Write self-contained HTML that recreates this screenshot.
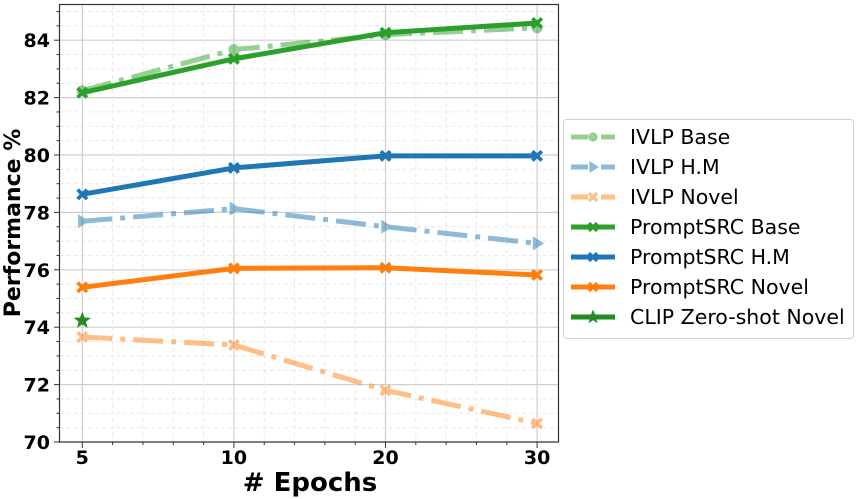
<!DOCTYPE html>
<html><head><meta charset="utf-8"><style>
html,body{margin:0;padding:0;background:#fff;}
svg{display:block;font-family:"DejaVu Sans","Liberation Sans",sans-serif;}
</style></head><body>
<svg id="chart" width="857" height="499" viewBox="0 0 857 499" xmlns="http://www.w3.org/2000/svg">
<g id="grid"></g>
<g id="series"></g>
<rect x="59.5" y="4.5" width="499" height="437.5" fill="none" stroke="#333" stroke-width="1.2"/>
<g id="axes"></g>
<text x="310" y="491" text-anchor="middle" font-size="26" font-weight="bold"># Epochs</text>
<text transform="translate(20,223) rotate(-90)" text-anchor="middle" font-size="22" font-weight="bold">Performance %</text>
<g id="legend"></g>
</svg>
<script>
const categories = ["5","10","20","30"];
const ivlpBase = [82.24, 83.67, 84.19, 84.43];
const ivlpHM = [77.69, 78.13, 77.50, 76.92];
const ivlpNovel = [73.66, 73.38, 71.80, 70.65];
const promptBase = [82.17, 83.35, 84.26, 84.60];
const promptHM = [78.63, 79.55, 79.97, 79.97];
const promptNovel = [75.39, 76.05, 76.07, 75.82];
const clipNovel = [74.23];
const yTicks = [70, 72, 74, 76, 78, 80, 82, 84];

const NS = "http://www.w3.org/2000/svg";
function mk(tag, attrs, parent){const e=document.createElementNS(NS,tag);for(const k in attrs)e.setAttribute(k,attrs[k]);parent.appendChild(e);return e;}
function xs(i){return 82.3 + i*151.6;}
function ys(v){return 442 - (v-70)*28.7;}
const grid=document.getElementById('grid'), axes=document.getElementById('axes'), series=document.getElementById('series'), legend=document.getElementById('legend');

for(let v=70; v<=85.2; v+=0.5){
  const y=ys(v); const major = Math.abs(v%2)<1e-6;
  const l=mk('line',{x1:60,x2:558,y1:y,y2:y,stroke:major?'#cfcfcf':'#e6e6e6','stroke-width':major?1.2:0.9},grid);
  if(!major) l.setAttribute('stroke-dasharray','4,3');
  
  
  const t=mk('line',{x1:59.5,x2:major?54:56.5,y1:y,y2:y,stroke:'#333','stroke-width':1},axes);
  
  
}
for(let k=-2;k<=16;k++){
  const x=82.3+k*151.6/5; if(x<60||x>558) continue;
  const major = k%5===0;
  const l=mk('line',{x1:x,x2:x,y1:5,y2:442,stroke:major?'#cfcfcf':'#e6e6e6','stroke-width':major?1.2:0.9},grid);
  if(!major) l.setAttribute('stroke-dasharray','4,3');
  
  
  const t=mk('line',{x1:x,x2:x,y1:442,y2:major?448:445,stroke:'#333','stroke-width':1},axes);
  
  
}
yTicks.forEach(v=>{
  const t=mk('text',{x:50,y:ys(v)+7,'text-anchor':'end','font-size':19,'font-weight':'bold'},axes);
  t.textContent=v;
  
  
});
categories.forEach((c,i)=>{
  const t=mk('text',{x:xs(i),y:464,'text-anchor':'middle','font-size':19,'font-weight':'bold'},axes);
  t.textContent=c;
  
  
});

function marker(type,x,y,color,parent,s){
  s=s||1;
  let e;
  if(type==='x'){
    const r=6*s,w=2.6*s;
    const d=`M${x-r},${y-r+w}L${x-r+w},${y-r}L${x},${y-w}L${x+r-w},${y-r}L${x+r},${y-r+w}L${x+w},${y}L${x+r},${y+r-w}L${x+r-w},${y+r}L${x},${y+w}L${x-r+w},${y+r}L${x-r},${y+r-w}L${x-w},${y}Z`;
    e=mk('path',{d:d,fill:color},parent);
  } else if(type==='o'){
    e=mk('circle',{cx:x,cy:y,r:5.5*s,fill:color},parent);
  } else if(type==='>'){
    const r=7*s;
    e=mk('path',{d:`M${x+r},${y}L${x-r*0.6},${y-r}L${x-r*0.6},${y+r}Z`,fill:color},parent);
  } else if(type==='*'){
    let d='';const R=9*s,r=3.8*s;
    for(let i=0;i<10;i++){const a=-Math.PI/2+i*Math.PI/5;const rr=i%2?r:R;d+=(i?'L':'M')+(x+rr*Math.cos(a))+','+(y+rr*Math.sin(a));}
    e=mk('path',{d:d+'Z',fill:color},parent);
  }
  
  
}

const defs=[
  {name:'IVLP Base',data:ivlpBase,color:'#2ca02c',op:0.5,dash:true,m:'o',key:'ivlp-base'},
  {name:'IVLP H.M',data:ivlpHM,color:'#1f77b4',op:0.5,dash:true,m:'>',key:'ivlp-hm'},
  {name:'IVLP Novel',data:ivlpNovel,color:'#ff7f0e',op:0.5,dash:true,m:'x',key:'ivlp-novel'},
  {name:'PromptSRC Base',data:promptBase,color:'#2ca02c',op:1,dash:false,m:'x',key:'promptsrc-base'},
  {name:'PromptSRC H.M',data:promptHM,color:'#1f77b4',op:1,dash:false,m:'x',key:'promptsrc-hm'},
  {name:'PromptSRC Novel',data:promptNovel,color:'#ff7f0e',op:1,dash:false,m:'x',key:'promptsrc-novel'},
  {name:'CLIP Zero-shot Novel',data:clipNovel,color:'#228b22',op:1,dash:false,m:'*',key:'clip-zero-shot-novel'}
];
defs.forEach(s=>{
  const g=mk('g',{opacity:s.op},series);
  
  
  if(s.data.length>1){
    const pts=s.data.map((v,i)=>xs(i)+','+ys(v)).join(' ');
    const pl=mk('polyline',{points:pts,fill:'none',stroke:s.color,'stroke-width':5,'stroke-linejoin':'round'},g);
    if(s.dash) pl.setAttribute('stroke-dasharray','30,8,5,8');
    
    
  }
  s.data.forEach((v,i)=>marker(s.m,xs(i),ys(v),s.color,g));
});

const lb=mk('rect',{x:563.5,y:119.5,width:290,height:219,rx:3,fill:'#fff',stroke:'#d0d0d0','stroke-width':1},legend);


defs.forEach((s,i)=>{
  const y=137+i*30;
  const g=mk('g',{},legend);
  
  
  const sg=mk('g',{opacity:s.op},g);
  const l=mk('line',{x1:571,x2:615,y1:y,y2:y,stroke:s.color,'stroke-width':5},sg);
  if(s.dash) l.setAttribute('stroke-dasharray','17,5,3,5');
  
  
  marker(s.m,593,y,s.color,sg,0.85);
  const t=mk('text',{x:630,y:y+7,'font-size':20.5,fill:'#000'},g);
  t.textContent=s.name;
  
  
});
</script>
</body></html>
